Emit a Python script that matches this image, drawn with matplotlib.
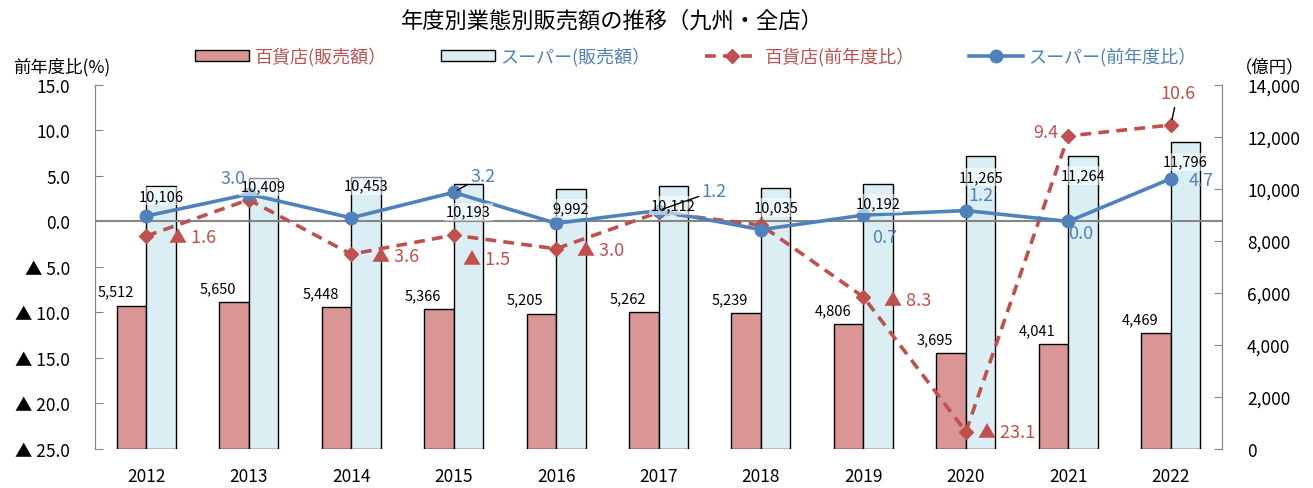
#! /usr/bin/env python3

import matplotlib
matplotlib.use("Agg")
import matplotlib.pyplot as plt
from matplotlib.patches import Patch
from matplotlib.lines import Line2D
from matplotlib.ticker import FuncFormatter, MultipleLocator

plt.rcParams["font.family"] = ["Noto Sans CJK JP", "DejaVu Sans"]

"""
Données.
"""

years = ["2012", "2013", "2014", "2015", "2016", "2017",
         "2018", "2019", "2020", "2021", "2022"]

# 販売額（億円）
dept_sales  = [5512, 5650, 5448, 5366, 5205, 5262, 5239, 4806, 3695, 4041, 4469]
super_sales = [10106, 10409, 10453, 10193, 9992, 10112, 10035, 10192, 11265, 11264, 11796]

# 前年度比（%）
dept_yoy  = [-1.6, 2.4, -3.6, -1.5, -3.0, 1.0, -0.4, -8.3, -23.1, 9.4, 10.6]
super_yoy = [0.6, 3.0, 0.4, 3.2, -0.2, 1.2, -0.9, 0.7, 1.2, 0.0, 4.7]

# années dont le pourcentage est affiché
dept_shown  = [0, 2, 3, 4, 7, 8, 9, 10]
super_shown = [1, 3, 5, 7, 8, 9, 10]

"""
Style.
"""

RED_BAR  = "#D99694"
BLUE_BAR = "#DAEEF3"
RED      = "#C0504D"
BLUE     = "#4F81BD"
GREY     = "#868686"

# décalages des étiquettes (points)
dept_off = {0: (16, -1, "left"), 2: (15, -1, "left"), 3: (7, -17, "left"),
            4: (15, -1, "left"), 7: (15, -2, "left"), 8: (9, 0, "left"),
            9: (-7, 3, "right"), 10: (5, 23, "center")}
super_off = {1: (-11, 12, "center"), 3: (12, 12, "left"), 5: (31, 14, "left"),
             7: (15, -16, "center"), 8: (11, 11, "center"), 9: (9, -8, "center"),
             10: (22, -1, "center")}
super_lab_dy = [-7, -6, -6, -20, -14, -14, -14, -14, -15, -14, -14]


def yoy_fmt(v, pos):
    if v < 0:
        return "▲ {:.1f}".format(-v)
    return "{:.1f}".format(v)


fig = plt.figure(figsize=(13.13, 4.89), dpi=100)
ax_bar = fig.add_axes([0.0724, 0.0798, 0.8583, 0.7444])
ax = ax_bar.twinx()

x = list(range(len(years)))
w = 0.288

# barres
ax_bar.bar([i - w / 2 for i in x], dept_sales, w, color=RED_BAR,
           edgecolor="black", linewidth=1)
ax_bar.bar([i + w / 2 for i in x], super_sales, w, color=BLUE_BAR,
           edgecolor="black", linewidth=1)
ax_bar.set_ylim(0, 14000)
ax_bar.set_xlim(-0.5, 10.5)
ax_bar.yaxis.set_major_locator(MultipleLocator(2000))
ax_bar.yaxis.set_major_formatter(FuncFormatter(lambda v, p: "{:,.0f}".format(v)))

# courbes
ax.axhline(0, color=GREY, lw=1.5, zorder=1)
ax.plot(x, dept_yoy, color=RED, lw=2.6, ls=(0, (3, 2)), marker="D",
        ms=7, zorder=3)
ax.plot(x, super_yoy, color=BLUE, lw=2.6, marker="o", ms=9, zorder=4)
ax.set_ylim(-25, 15)
ax.yaxis.set_major_locator(MultipleLocator(5))
ax.yaxis.set_major_formatter(FuncFormatter(yoy_fmt))

# axes : pourcentage à gauche, montants à droite
ax.yaxis.tick_left()
ax_bar.yaxis.tick_right()
for a in (ax, ax_bar):
    for s in ("top", "bottom"):
        a.spines[s].set_visible(False)
    a.spines["left"].set_color(GREY)
    a.spines["right"].set_color(GREY)
    a.tick_params(axis="y", direction="in", length=6, color=GREY,
                  labelsize=12.5, pad=18)
ax_bar.set_xticks(x)
ax_bar.set_xticklabels(years)
ax_bar.tick_params(axis="x", length=0, labelsize=12.5, pad=13)

# étiquettes des barres
for i in x:
    ax.annotate("{:,}".format(dept_sales[i]), (i - 0.3, dept_sales[i]),
                xycoords=ax_bar.transData, xytext=(0, 10),
                textcoords="offset points", ha="center", va="center",
                fontsize=10.5, zorder=6)
    ax.annotate("{:,}".format(super_sales[i]), (i + w / 2, super_sales[i]),
                xycoords=ax_bar.transData, xytext=(0, super_lab_dy[i]),
                textcoords="offset points", ha="center", va="center",
                fontsize=10.5, zorder=6,
                bbox=dict(boxstyle="square,pad=0.15", fc="white",
                          ec="none", alpha=0.55))

# étiquettes des pourcentages
for i in dept_shown:
    dx, dy, ha = dept_off[i]
    v = dept_yoy[i]
    txt = "▲ {:.1f}".format(-v) if v < 0 else "{:.1f}".format(v)
    arrow = dict(arrowstyle="-", color="black", lw=1, shrinkA=2,
                 shrinkB=4) if i == 10 else None
    ax.annotate(txt, (i, v), xytext=(dx, dy), textcoords="offset points",
                ha=ha, va="center", color=RED, fontsize=13, zorder=7,
                arrowprops=arrow)

for i in super_shown:
    dx, dy, ha = super_off[i]
    v = super_yoy[i]
    arrow = dict(arrowstyle="-", color="black", lw=1, shrinkA=0,
                 shrinkB=3) if i in (3, 5) else None
    ax.annotate("{:.1f}".format(v), (i, v), xytext=(dx, dy),
                textcoords="offset points", ha=ha, va="center",
                color=BLUE, fontsize=13, zorder=7, arrowprops=arrow)

# titres
fig.text(0.466, 0.957, "年度別業態別販売額の推移（九州・全店）",
         ha="center", va="center", fontsize=16)
fig.text(0.047, 0.862, "前年度比(%)", ha="center", va="center", fontsize=12.5)
fig.text(0.967, 0.862, "（億円）", ha="center", va="center", fontsize=12.5)

# légende
handles = [
    Patch(facecolor=RED_BAR, edgecolor="black"),
    Patch(facecolor=BLUE_BAR, edgecolor="black"),
    Line2D([], [], color=RED, lw=2.6, ls=(0, (3, 2)), marker="D", ms=7),
    Line2D([], [], color=BLUE, lw=2.6, marker="o", ms=9),
]
labels = ["百貨店(販売額）", "スーパー(販売額）",
          "百貨店(前年度比）", "スーパー(前年度比）"]
fig.legend(handles, labels, loc="center", bbox_to_anchor=(0.53, 0.883),
           ncol=4, frameon=False, fontsize=13, handlelength=3.0,
           handleheight=0.6, columnspacing=3.0, handletextpad=0.3,
           labelcolor=[RED, BLUE, RED, BLUE])

plt.savefig("out.png", dpi=100)
